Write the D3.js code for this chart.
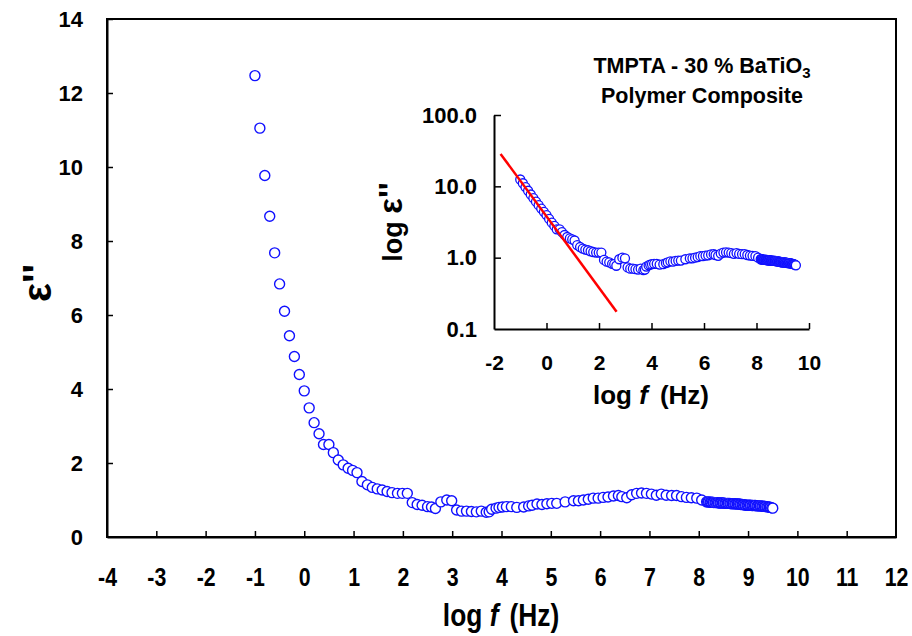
<!DOCTYPE html>
<html>
<head>
<meta charset="utf-8">
<script src="https://cdn.jsdelivr.net/npm/d3@7"></script>
<style>
  body { margin: 0; background: #fff; }
  text { font-family: "Liberation Sans", Arial, sans-serif; font-weight: bold; fill: #000; }
</style>
</head>
<body>
<div class="canvas"></div>
<script>
// measured data: log frequency (Hz) and dielectric loss
const logF = [
  -1.0, -0.9, -0.8, -0.7, -0.6, -0.5, -0.4, -0.3, -0.2, -0.1,
  0.0, 0.1, 0.2, 0.3, 0.39, 0.5, 0.59, 0.69, 0.79, 0.89,
  0.98, 1.07, 1.17, 1.28, 1.38, 1.48, 1.58, 1.68, 1.78, 1.89,
  1.99, 2.09, 2.19, 2.29, 2.39, 2.5, 2.58, 2.66, 2.77, 2.89,
  2.99, 3.09, 3.19, 3.29, 3.39, 3.49, 3.59, 3.69, 3.75, 3.8,
  3.89, 3.95, 4.02, 4.1, 4.2, 4.31, 4.45, 4.55, 4.62, 4.72,
  4.82, 4.92, 5.02, 5.12, 5.29, 5.46, 5.56, 5.66, 5.76, 5.86,
  5.96, 6.06, 6.16, 6.27, 6.37, 6.44, 6.54, 6.64, 6.74, 6.84,
  6.94, 7.04, 7.14, 7.24, 7.34, 7.45, 7.55, 7.65, 7.75, 7.85,
  7.96, 8.06, 8.16,
  8.18, 8.20, 8.23, 8.25, 8.28, 8.30, 8.33, 8.35, 8.38, 8.40,
  8.43, 8.45, 8.48, 8.50, 8.53, 8.55, 8.58, 8.60, 8.63, 8.65,
  8.68, 8.70, 8.73, 8.75, 8.78, 8.80, 8.83, 8.85, 8.88, 8.90,
  8.93, 8.95, 8.98, 9.00, 9.03, 9.05, 9.08, 9.10, 9.13, 9.15,
  9.18, 9.20, 9.23, 9.25, 9.28, 9.30, 9.33, 9.35, 9.38, 9.40,
  9.43, 9.45, 9.48, 9.50
];
const epsLoss = [
  12.47, 11.05, 9.77, 8.67, 7.68, 6.84, 6.10, 5.44, 4.88, 4.39,
  3.95, 3.49, 3.09, 2.79, 2.50, 2.50, 2.28, 2.08, 1.95, 1.86,
  1.80, 1.74, 1.50, 1.41, 1.34, 1.30, 1.27, 1.23, 1.20, 1.18,
  1.18, 1.18, 0.93, 0.88, 0.86, 0.82, 0.81, 0.77, 0.95, 1.00,
  0.98, 0.73, 0.70, 0.70, 0.69, 0.68, 0.70, 0.67, 0.68, 0.75,
  0.78, 0.80, 0.81, 0.82, 0.82, 0.80, 0.81, 0.84, 0.86, 0.89,
  0.88, 0.90, 0.91, 0.91, 0.95, 0.98, 0.98, 1.00, 1.02, 1.05,
  1.05, 1.07, 1.08, 1.11, 1.12, 1.09, 1.06, 1.14, 1.18, 1.19,
  1.18, 1.16, 1.13, 1.16, 1.13, 1.12, 1.12, 1.09, 1.07, 1.06,
  1.05, 1.00, 0.95,
  0.95, 0.95, 0.94, 0.94, 0.94, 0.93, 0.93, 0.93, 0.93, 0.92,
  0.92, 0.92, 0.92, 0.92, 0.91, 0.91, 0.91, 0.91, 0.91, 0.90,
  0.90, 0.90, 0.90, 0.89, 0.89, 0.89, 0.89, 0.88, 0.88, 0.87,
  0.87, 0.86, 0.86, 0.86, 0.86, 0.86, 0.85, 0.85, 0.85, 0.85,
  0.84, 0.84, 0.84, 0.84, 0.83, 0.83, 0.83, 0.82, 0.82, 0.81,
  0.81, 0.80, 0.79, 0.78
];
// power-law fit drawn in the inset (end points)
const fitLogF = [-1.75, 2.67];
const fitEps = [28.5, 0.175];

const mainXTicks = d3.range(-4, 13, 1);
const mainYTicks = [0, 2, 4, 6, 8, 10, 12, 14];
const insetXTicks = [-2, 0, 2, 4, 6, 8, 10];
const insetYTicks = [0.1, 1, 10, 100];

const points = logF.map((f, i) => ({ f: f, e: epsLoss[i] }));
const font = '"Liberation Sans", Arial, sans-serif';

// create svg
const svg = d3.select('.canvas')
  .append('svg')
    .attr('width', 912)
    .attr('height', 636);

// style an axis group: thick line, bold labels
const styleAxis = (a, size, squeeze) => {
  a.select('.domain').attr('stroke-width', 2);
  a.selectAll('.tick line').attr('stroke-width', 1.5);
  a.selectAll('text')
    .attr('font-family', font)
    .attr('font-weight', 'bold')
    .attr('font-size', size + 'px')
    .attr('transform', squeeze ? `scale(${squeeze},1)` : null);
};

// ---------- main chart ----------
const x = d3.scaleLinear().domain([-4, 12]).range([107, 896]);
const y = d3.scaleLinear().domain([0, 14]).range([537, 19]);

svg.append('rect')
  .attr('x', x(-4)).attr('y', y(14))
  .attr('width', x(12) - x(-4)).attr('height', y(0) - y(14))
  .attr('fill', 'none').attr('stroke', '#000').attr('stroke-width', 2);

const xAxis = svg.append('g')
  .attr('transform', `translate(0,${y(0)})`)
  .call(d3.axisBottom(x).tickValues(mainXTicks).tickSizeInner(-6).tickSizeOuter(0)
    .tickPadding(31).tickFormat(d => String(d)));

const yAxis = svg.append('g')
  .attr('transform', `translate(${x(-4)},0)`)
  .call(d3.axisLeft(y).tickValues(mainYTicks).tickSizeInner(-6).tickSizeOuter(0).tickPadding(24));

styleAxis(xAxis, 26, 0.82);
styleAxis(yAxis, 22);
// hide ticks that sit on the box edges
xAxis.selectAll('.tick').filter(d => d === -4 || d === 12).select('line').remove();
yAxis.selectAll('.tick').filter(d => d === 0).select('line').remove();

svg.append('g')
  .selectAll('circle')
  .data(points)
  .enter()
  .append('circle')
    .attr('cx', d => x(d.f))
    .attr('cy', d => y(d.e))
    .attr('r', 5)
    .attr('fill', '#fff')
    .attr('stroke', '#1010ff')
    .attr('stroke-width', 1.4);

// axis titles
const xTitle = svg.append('text')
  .attr('transform', 'translate(501,626) scale(0.85,1)')
  .attr('text-anchor', 'middle')
  .attr('font-size', '31px');
xTitle.append('tspan').text('log ');
xTitle.append('tspan').attr('font-style', 'italic').text('f');
xTitle.append('tspan').attr('dx', 13).text('(Hz)');

svg.append('text')
  .attr('transform', 'translate(51,283) rotate(-90)')
  .attr('text-anchor', 'middle')
  .attr('font-size', '40px')
  .text("\u03b5''");

// ---------- inset ----------
const xi = d3.scaleLinear().domain([-2, 10]).range([494, 809]);
const yi = d3.scaleLog().domain([0.1, 100]).range([329, 115]);

const xiAxis = svg.append('g')
  .attr('transform', `translate(0,${yi(0.1)})`)
  .call(d3.axisBottom(xi).tickValues(insetXTicks).tickSizeInner(-6).tickSizeOuter(0).tickPadding(26)
    .tickFormat(d => String(d)));

const yiAxis = svg.append('g')
  .attr('transform', `translate(${xi(-2)},0)`)
  .call(d3.axisLeft(yi).tickValues(insetYTicks).tickSizeInner(-7).tickSizeOuter(0).tickPadding(17)
    .tickFormat(d3.format('.1f')));

styleAxis(xiAxis, 21);
styleAxis(yiAxis, 22);
xiAxis.selectAll('.tick').filter(d => d === -2).select('line').remove();
yiAxis.selectAll('.tick').filter(d => d === 0.1).select('line').remove();

svg.append('g')
  .selectAll('circle')
  .data(points)
  .enter()
  .append('circle')
    .attr('cx', d => xi(d.f))
    .attr('cy', d => yi(d.e))
    .attr('r', 4.5)
    .attr('fill', '#fff')
    .attr('stroke', '#1010ff')
    .attr('stroke-width', 1.3);

svg.append('line')
  .attr('x1', xi(fitLogF[0])).attr('y1', yi(fitEps[0]))
  .attr('x2', xi(fitLogF[1])).attr('y2', yi(fitEps[1]))
  .attr('stroke', '#ff0000')
  .attr('stroke-width', 2.5);

const xiTitle = svg.append('text')
  .attr('x', 651).attr('y', 404)
  .attr('text-anchor', 'middle')
  .attr('font-size', '26px');
xiTitle.append('tspan').text('log ');
xiTitle.append('tspan').attr('font-style', 'italic').text('f');
xiTitle.append('tspan').attr('dx', 12).text('(Hz)');

const yiTitle = svg.append('text')
  .attr('transform', 'translate(402,222) rotate(-90)')
  .attr('text-anchor', 'middle')
  .attr('font-size', '27px');
yiTitle.append('tspan').text('log ');
yiTitle.append('tspan').attr('font-size', '33px').text("\u03b5''");

// inset label
const lab1 = svg.append('text')
  .attr('x', 702).attr('y', 73)
  .attr('text-anchor', 'middle')
  .attr('font-size', '21.5px');
lab1.append('tspan').text('TMPTA - 30 % BaTiO');
lab1.append('tspan').attr('font-size', '15px').attr('dy', 5).text('3');

svg.append('text')
  .attr('x', 702).attr('y', 103)
  .attr('text-anchor', 'middle')
  .attr('font-size', '21.5px')
  .text('Polymer Composite');
</script>
</body>
</html>
